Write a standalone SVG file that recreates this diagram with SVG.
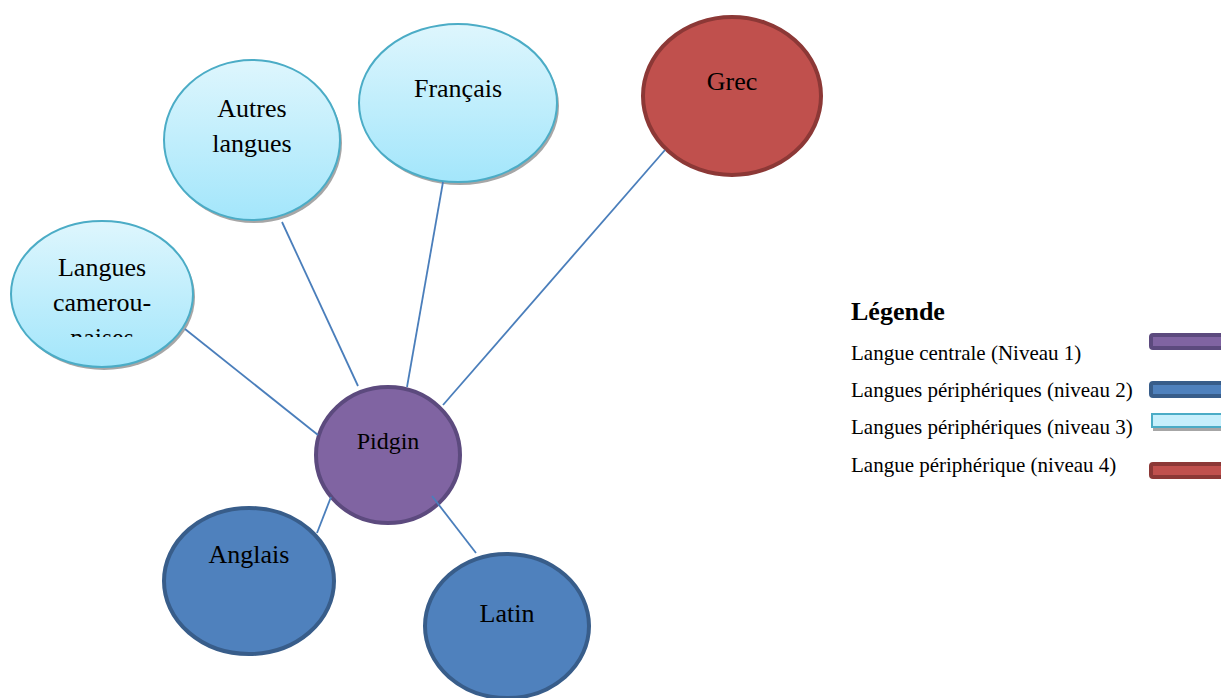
<svg xmlns="http://www.w3.org/2000/svg" width="1221" height="698" viewBox="0 0 1221 698">
<defs>
<linearGradient id="lb" x1="0" y1="0" x2="0" y2="1">
<stop offset="0" stop-color="#def6fd"/>
<stop offset="1" stop-color="#a3e6fb"/>
</linearGradient>
<clipPath id="camClip"><rect x="0" y="240" width="220" height="97"/></clipPath>
</defs>
<style>
.t{font-family:"Liberation Serif","Times New Roman",serif;font-size:26px;fill:#000;text-anchor:middle}
.lg{font-family:"Liberation Serif","Times New Roman",serif;font-size:21px;fill:#000}
.lvl3{fill:url(#lb);stroke:#4bacc6;stroke-width:2}
.sh{fill:#a6a6a6}
.lvl2{fill:#4f81bd;stroke:#385d8a;stroke-width:4}
.lvl1{fill:#8064a2;stroke:#5c4a7e;stroke-width:4}
.lvl4{fill:#c0504d;stroke:#8c3836;stroke-width:4}
.c{stroke:#4a7ebb;stroke-width:1.8;fill:none}
</style>
<rect width="1221" height="698" fill="#fff"/>
<g id="camerounaises">
<ellipse class="sh" cx="104" cy="297" rx="91" ry="73"/>
<ellipse class="lvl3" cx="102" cy="294" rx="91" ry="73"/>
<g clip-path="url(#camClip)">
<text class="t" x="102" y="276">Langues</text>
<text class="t" x="102" y="311">camerou-</text>
<text class="t" x="102" y="346">naises</text>
</g>
</g>
<g id="autres">
<ellipse class="sh" cx="254" cy="143" rx="88" ry="80"/>
<ellipse class="lvl3" cx="252" cy="140" rx="88" ry="80"/>
<text class="t" x="252" y="117">Autres</text>
<text class="t" x="252" y="152">langues</text>
</g>
<g id="francais">
<ellipse class="sh" cx="460" cy="106" rx="99" ry="79"/>
<ellipse class="lvl3" cx="458" cy="103" rx="99" ry="79"/>
<text class="t" x="458" y="97">Français</text>
</g>
<g id="grec">
<ellipse class="lvl4" cx="732" cy="96" rx="89" ry="79"/>
<text class="t" x="732" y="90">Grec</text>
</g>
<g id="pidgin">
<ellipse class="lvl1" cx="388" cy="455" rx="72" ry="68"/>
<text class="t" x="388" y="449" style="font-size:24px">Pidgin</text>
</g>
<g id="anglais">
<ellipse class="lvl2" cx="249" cy="581" rx="85" ry="73"/>
<text class="t" x="249" y="563">Anglais</text>
</g>
<g id="latin">
<ellipse class="lvl2" cx="507" cy="626" rx="82" ry="72"/>
<text class="t" x="507" y="622">Latin</text>
</g>
<g id="connectors">
<line class="c" x1="185" y1="329" x2="318" y2="435"/>
<line class="c" x1="282" y1="222" x2="358" y2="386"/>
<line class="c" x1="443" y1="182" x2="407" y2="387"/>
<line class="c" x1="665" y1="150" x2="443" y2="405"/>
<line class="c" x1="331" y1="497" x2="317" y2="533"/>
<line class="c" x1="432" y1="496" x2="476" y2="553"/>
</g>
<g id="legende">
<text x="851" y="320" style="font-family:'Liberation Serif','Times New Roman',serif;font-size:26px;font-weight:bold">Légende</text>
<text class="lg" x="851" y="360">Langue centrale (Niveau 1)</text>
<text class="lg" x="851" y="397">Langues périphériques (niveau 2)</text>
<text class="lg" x="851" y="434">Langues périphériques (niveau 3)</text>
<text class="lg" x="851" y="472">Langue périphérique (niveau 4)</text>
<rect class="lvl1" x="1151" y="335" width="80" height="13" rx="2"/>
<rect class="lvl2" x="1151" y="383" width="80" height="13" rx="2"/>
<rect class="sh" x="1153" y="417" width="80" height="14"/>
<rect x="1152" y="414" width="80" height="13" fill="#c6effc" stroke="#4bacc6" stroke-width="2"/>
<rect class="lvl4" x="1151" y="464" width="80" height="13" rx="2"/>
</g>
</svg>
